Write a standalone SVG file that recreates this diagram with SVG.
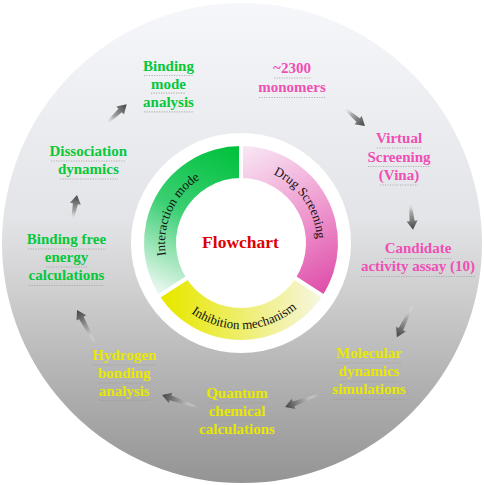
<svg xmlns="http://www.w3.org/2000/svg" width="484" height="485" viewBox="0 0 484 485">
<defs>
<linearGradient id="bgGrad" x1="0" y1="0" x2="0" y2="1">
<stop offset="0" stop-color="#f6f7fa"/>
<stop offset="0.45" stop-color="#e3e4e7"/>
<stop offset="0.6" stop-color="#cfcfd0"/>
<stop offset="0.8" stop-color="#b0b0b0"/>
<stop offset="1" stop-color="#949494"/>
</linearGradient>
<linearGradient id="pinkGrad" gradientUnits="userSpaceOnUse" x1="245" y1="150" x2="318" y2="292">
<stop offset="0" stop-color="#f8e4f2"/>
<stop offset="0.55" stop-color="#ee96ce"/>
<stop offset="1" stop-color="#df52ab"/>
</linearGradient>
<linearGradient id="greenGrad" gradientUnits="userSpaceOnUse" x1="238" y1="150" x2="165" y2="292">
<stop offset="0" stop-color="#00c13c"/>
<stop offset="0.5" stop-color="#3bcf73"/>
<stop offset="1" stop-color="#e6f6ec"/>
</linearGradient>
<linearGradient id="yellowGrad" gradientUnits="userSpaceOnUse" x1="168" y1="300" x2="318" y2="300">
<stop offset="0" stop-color="#e8e800"/>
<stop offset="0.5" stop-color="#eeee70"/>
<stop offset="1" stop-color="#f6f6dc"/>
</linearGradient>
<linearGradient id="arrowGrad" x1="0" y1="0" x2="1" y2="0">
<stop offset="0" stop-color="#ffffff" stop-opacity="0"/>
<stop offset="0.4" stop-color="#a8a8a8"/>
<stop offset="1" stop-color="#444444"/>
</linearGradient>
<path id="arcDrug" d="M 261.95 169.94 A 76 76 0 0 1 316.58 250.94"/>
<path id="arcInter" d="M 167.94 263.95 A 76 76 0 0 1 207.68 174.69"/>
<path id="arcInhib" d="M 180.19 303.81 A 86 86 0 0 0 306.88 298.28"/>
</defs>
<style>
.lbl { font-family: "Liberation Serif", "Times New Roman", serif; font-weight: bold; font-size: 15px; text-anchor: middle; }
.pink { fill: #ef4fb4; }
.green { fill: #05c83a; }
.yellow { fill: #e8e800; }
.refl { stroke: #9a9a9a; stroke-width: 1.2; stroke-dasharray: 1.2 1.3; opacity: 0.7; fill: none; }
.arc { font-family: "Liberation Serif", "Times New Roman", serif; font-size: 13px; fill: #111; }
.arrow { fill: url(#arrowGrad); }
</style>
<rect x="0" y="0" width="484" height="485" fill="#ffffff"/>
<circle id="background" cx="242" cy="243" r="240" fill="url(#bgGrad)"/>
<circle cx="241" cy="243" r="110" fill="#ffffff"/>

<g id="drug-screening">
<path d="M 241 146 A 97 97 0 0 1 322.35 295.83 L 295.52 278.40 A 65 65 0 0 0 241 178 Z" fill="url(#pinkGrad)"/>
<text class="arc"><textPath href="#arcDrug" startOffset="50%" text-anchor="middle">Drug Screening</textPath></text>
</g>
<g id="inhibition-mechanism">
<path d="M 322.35 295.83 A 97 97 0 0 1 159.65 295.83 L 186.48 278.40 A 65 65 0 0 0 295.52 278.40 Z" fill="url(#yellowGrad)"/>
<text class="arc"><textPath href="#arcInhib" startOffset="50%" text-anchor="middle">Inhibition mechanism</textPath></text>
</g>
<g id="interaction-mode">
<path d="M 159.65 295.83 A 97 97 0 0 1 241 146 L 241 178 A 65 65 0 0 0 186.48 278.40 Z" fill="url(#greenGrad)"/>
<text class="arc"><textPath href="#arcInter" startOffset="50%" text-anchor="middle">Interaction mode</textPath></text>
</g>
<g id="ring-gaps" stroke="#ffffff" stroke-width="4">
<line x1="241" y1="243" x2="241" y2="140"/>
<line x1="241" y1="243" x2="327.5" y2="299"/>
<line x1="241" y1="243" x2="154.5" y2="299"/>
</g>
<circle cx="241" cy="243" r="64" fill="#ffffff"/>

<g id="flowchart">
<text x="240.5" y="248" font-family="Liberation Serif, Times New Roman, serif" font-weight="bold" font-size="17.5" fill="#e00000" text-anchor="middle">Flowchart</text>
</g>

<g id="binding-mode-analysis">
<text class="lbl green" x="168.5" y="70.5">Binding</text>
<text class="lbl green" x="168.5" y="88.7">mode</text>
<text class="lbl green" x="168.5" y="106.9">analysis</text>
<line class="refl" x1="144" y1="75.5" x2="194" y2="75.5"/>
<line class="refl" x1="151" y1="93.2" x2="186" y2="93.2"/>
<line class="refl" x1="144" y1="111.8" x2="194" y2="111.8"/>
</g>
<g id="monomers">
<text class="lbl pink" x="292" y="73.3">~2300</text>
<text class="lbl pink" x="292" y="91.7">monomers</text>
<line class="refl" x1="274" y1="78" x2="311" y2="78"/>
<line class="refl" x1="259" y1="97.5" x2="326" y2="97.5"/>
</g>
<g id="virtual-screening">
<text class="lbl pink" x="399" y="143.3">Virtual</text>
<text class="lbl pink" x="399" y="161.5">Screening</text>
<text class="lbl pink" x="399" y="179.7">(Vina)</text>
<line class="refl" x1="377" y1="148" x2="421" y2="148"/>
<line class="refl" x1="368" y1="166.5" x2="430" y2="166.5"/>
<line class="refl" x1="380" y1="185" x2="418" y2="185"/>
</g>
<g id="candidate-assay">
<text class="lbl pink" x="418" y="253.3">Candidate</text>
<text class="lbl pink" x="418" y="270.7">activity assay (10)</text>
<line class="refl" x1="385" y1="258.5" x2="451" y2="258.5"/>
<line class="refl" x1="361" y1="276.5" x2="475" y2="276.5"/>
</g>
<g id="molecular-dynamics">
<text class="lbl yellow" x="369" y="358.3">Molecular</text>
<text class="lbl yellow" x="369" y="376.3">dynamics</text>
<text class="lbl yellow" x="369" y="394.3">simulations</text>
<line class="refl" x1="337" y1="363" x2="401" y2="363"/>
<line class="refl" x1="340" y1="381.5" x2="398" y2="381.5"/>
<line class="refl" x1="333" y1="399.5" x2="405" y2="399.5"/>
</g>
<g id="quantum-chemical">
<text class="lbl yellow" x="237" y="398.3">Quantum</text>
<text class="lbl yellow" x="237" y="416.3">chemical</text>
<text class="lbl yellow" x="237" y="434.3">calculations</text>
<line class="refl" x1="207" y1="403" x2="267" y2="403"/>
<line class="refl" x1="209" y1="421" x2="265" y2="421"/>
<line class="refl" x1="200" y1="439.5" x2="275" y2="439.5"/>
</g>
<g id="hydrogen-bonding">
<text class="lbl yellow" x="124.3" y="359.5">Hydrogen</text>
<text class="lbl yellow" x="124.3" y="377.5">bonding</text>
<text class="lbl yellow" x="124.3" y="395.5">analysis</text>
<line class="refl" x1="93" y1="365" x2="156" y2="365"/>
<line class="refl" x1="99" y1="383" x2="150" y2="383"/>
<line class="refl" x1="100" y1="400.5" x2="149" y2="400.5"/>
</g>
<g id="binding-free-energy">
<text class="lbl green" x="66.5" y="243.5">Binding free</text>
<text class="lbl green" x="66.5" y="261.7">energy</text>
<text class="lbl green" x="66.5" y="280">calculations</text>
<line class="refl" x1="28" y1="249" x2="106" y2="249"/>
<line class="refl" x1="46" y1="267" x2="87" y2="267"/>
<line class="refl" x1="29" y1="285.5" x2="104" y2="285.5"/>
</g>
<g id="dissociation-dynamics">
<text class="lbl green" x="88.3" y="156">Dissociation</text>
<text class="lbl green" x="88.3" y="173.7">dynamics</text>
<line class="refl" x1="51" y1="161" x2="126" y2="161"/>
<line class="refl" x1="60" y1="179" x2="118" y2="179"/>
</g>

<g id="connectors">
<polygon class="arrow" transform="translate(343,107) rotate(40.8)" points="0,-1 20,-2.5 20,-5.5 29,0 20,5.5 20,2.5 0,1"/>
<polygon class="arrow" transform="translate(410,200) rotate(84.3)" points="0,-1 21,-2.5 21,-5.5 30,0 21,5.5 21,2.5 0,1"/>
<polygon class="arrow" transform="translate(413,305) rotate(116.6)" points="0,-1 27,-2.5 27,-5.5 36,0 27,5.5 27,2.5 0,1"/>
<polygon class="arrow" transform="translate(318,395) rotate(160)" points="0,-1 26,-2.5 26,-5.5 35,0 26,5.5 26,2.5 0,1"/>
<polygon class="arrow" transform="translate(197,407) rotate(199)" points="0,-1 28,-2.5 28,-5.5 37,0 28,5.5 28,2.5 0,1"/>
<polygon class="arrow" transform="translate(95,343) rotate(-118.6)" points="0,-1 28.5,-2.5 28.5,-5.5 37.5,0 28.5,5.5 28.5,2.5 0,1"/>
<polygon class="arrow" transform="translate(72,222) rotate(-79.5)" points="0,-1 18.5,-2.5 18.5,-5.5 27.5,0 18.5,5.5 18.5,2.5 0,1"/>
<polygon class="arrow" transform="translate(105,125) rotate(-43.7)" points="0,-1 21,-2.5 21,-5.5 30,0 21,5.5 21,2.5 0,1"/>
</g>
</svg>
